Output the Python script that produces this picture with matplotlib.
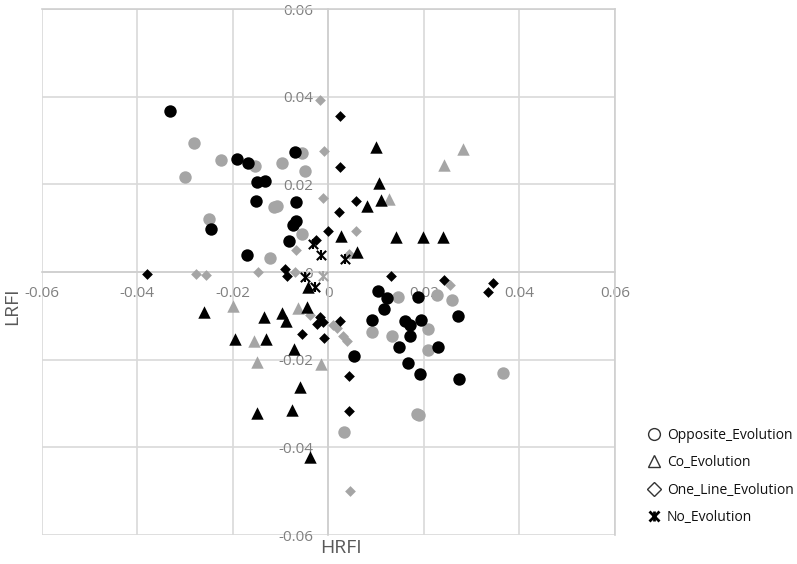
import matplotlib
matplotlib.use("Agg")
import matplotlib.pyplot as plt
from matplotlib.lines import Line2D

# HRFI / LRFI coordinates
opp_black_x = [-0.0332, -0.0191, -0.0168, -0.0149, -0.0132, -0.0069, -0.0152, -0.0068, -0.0067,
               -0.0073, -0.0245, -0.0083, -0.0170, 0.0104, 0.0123, 0.0116, 0.0188, 0.0091, 0.0161,
               0.0170, 0.0194, 0.0170, 0.0272, 0.0147, 0.0229, 0.0054, 0.0166, 0.0191, 0.0273]
opp_black_y = [0.0368, 0.0257, 0.0249, 0.0205, 0.0207, 0.0274, 0.0161, 0.0160, 0.0116,
               0.0107, 0.0098, 0.0071, 0.0039, -0.0043, -0.0060, -0.0085, -0.0056, -0.0110, -0.0111,
               -0.0121, -0.0110, -0.0145, -0.0100, -0.0170, -0.0172, -0.0192, -0.0208, -0.0233, -0.0245]
opp_gray_x = [-0.0280, -0.0300, -0.0224, -0.0153, -0.0096, -0.0055, -0.0048, -0.0114, -0.0107,
              -0.0249, -0.0054, -0.0121, 0.0145, 0.0227, 0.0259, 0.0091, 0.0134, 0.0208, 0.0208,
              0.0365, 0.0185, 0.0190, 0.0032]
opp_gray_y = [0.0295, 0.0217, 0.0255, 0.0243, 0.0248, 0.0272, 0.0230, 0.0149, 0.0151,
              0.0121, 0.0086, 0.0033, -0.0056, -0.0052, -0.0063, -0.0137, -0.0146, -0.0131, -0.0179,
              -0.0231, -0.0324, -0.0326, -0.0364]

co_black_x = [0.0099, 0.0107, 0.0111, 0.0082, 0.0026, 0.0141, 0.0199, 0.0240, 0.0060, -0.0042,
              -0.0045, -0.0260, -0.0196, -0.0134, -0.0131, -0.0096, -0.0088, -0.0071, -0.0060,
              -0.0149, -0.0075, -0.0038]
co_black_y = [0.0286, 0.0203, 0.0164, 0.0151, 0.0082, 0.0079, 0.0079, 0.0081, 0.0046, -0.0034,
              -0.0080, -0.0091, -0.0153, -0.0103, -0.0153, -0.0093, -0.0111, -0.0176, -0.0263,
              -0.0322, -0.0315, -0.0421]
co_gray_x = [0.0128, 0.0243, 0.0281, -0.0199, -0.0156, -0.0149, -0.0064, -0.0015]
co_gray_y = [0.0166, 0.0245, 0.0281, -0.0078, -0.0157, -0.0205, -0.0082, -0.0210]

one_black_x = [0.0024, 0.0024, 0.0058, 0.0023, 0.0000, -0.0025, -0.0379, -0.0091, -0.0086, 0.0132,
               0.0242, 0.0344, 0.0334, -0.0055, -0.0018, -0.0011, -0.0024, -0.0010, 0.0025,
               0.0044, 0.0044]
one_black_y = [0.0357, 0.0240, 0.0162, 0.0138, 0.0093, 0.0073, -0.0005, 0.0006, -0.0010, -0.0009,
               -0.0018, -0.0024, -0.0046, -0.0141, -0.0103, -0.0114, -0.0119, -0.0151, -0.0112,
               -0.0238, -0.0316]
one_gray_x = [-0.0018, -0.0008, -0.0011, 0.0059, -0.0067, -0.0147, -0.0276, -0.0256, -0.0070,
              0.0254, -0.0038, 0.0010, 0.0019, 0.0031, 0.0040, 0.0045, 0.0044]
one_gray_y = [0.0393, 0.0277, 0.0170, 0.0093, 0.0050, 0.0001, -0.0005, -0.0006, 0.0001,
              -0.0030, -0.0098, -0.0121, -0.0128, -0.0146, -0.0157, -0.0500, 0.0041]

no_black_x = [-0.0033, -0.0015, 0.0034, -0.0048, -0.0027]
no_black_y = [0.0063, 0.0038, 0.0030, -0.0011, -0.0035]
no_gray_x = [-0.0011]
no_gray_y = [-0.0008]

legend_labels = ["Opposite_Evolution", "Co_Evolution", "One_Line_Evolution", "No_Evolution"]
ticks = [-0.06, -0.04, -0.02, 0, 0.02, 0.04, 0.06]
tick_labels = ["-0.06", "-0.04", "-0.02", "0", "0.02", "0.04", "0.06"]

plt.rcParams["font.family"] = ["Open Sans", "DejaVu Sans"]
BLACK = "#000000"
GRAY = "#a5a5a5"


def star(ax, xs, ys, color, z):
    # Excel-style star marker: an x crossed by a vertical bar
    ax.scatter(xs, ys, s=45, marker="x", color=color, linewidths=1.5, zorder=z)
    ax.scatter(xs, ys, s=45, marker="|", color=color, linewidths=1.5, zorder=z)


fig = plt.figure(figsize=(7.97, 5.64), dpi=100)
ax = fig.add_axes([0.0521, 0.0514, 0.7196, 0.9326])

# gray series first, black ones sit on top
ax.scatter(opp_gray_x, opp_gray_y, s=80, marker="o", color=GRAY, linewidths=0, zorder=3)
ax.scatter(co_gray_x, co_gray_y, s=80, marker="^", color=GRAY, linewidths=0, zorder=3)
ax.scatter(one_gray_x, one_gray_y, s=30, marker="D", color=GRAY, linewidths=0, zorder=3)
star(ax, no_gray_x, no_gray_y, GRAY, 3)

ax.scatter(opp_black_x, opp_black_y, s=80, marker="o", color=BLACK, linewidths=0, zorder=4)
ax.scatter(co_black_x, co_black_y, s=80, marker="^", color=BLACK, linewidths=0, zorder=4)
ax.scatter(one_black_x, one_black_y, s=30, marker="D", color=BLACK, linewidths=0, zorder=4)
star(ax, no_black_x, no_black_y, BLACK, 4)

ax.set_xlim(-0.06, 0.06)
ax.set_ylim(-0.06, 0.06)
ax.set_xticks(ticks)
ax.set_xticklabels(tick_labels)
ax.set_yticks(ticks)
ax.set_yticklabels(tick_labels)
ax.grid(True, color="#d9d9d9", linewidth=1.2, zorder=0)
ax.set_axisbelow(True)

# axes cross at the origin, the remaining frame is the light grid box
ax.spines["bottom"].set_position("zero")
ax.spines["left"].set_position("zero")
for side in ["top", "right", "bottom", "left"]:
    ax.spines[side].set_color("#cfcfcf")
    ax.spines[side].set_linewidth(1.2)
ax.tick_params(axis="both", length=0, labelsize=11, labelcolor="#808080")
ax.tick_params(axis="x", pad=10)
ax.tick_params(axis="y", pad=11)

fig.text(0.428, 0.028, "HRFI", fontsize=14, color="#595959", ha="center", va="center")
fig.text(0.0155, 0.457, "LRFI", fontsize=14, color="#595959", ha="center", va="center",
         rotation=90)

handles = [
    Line2D([], [], linestyle="none", marker="o", markersize=8.5, markerfacecolor="none",
           markeredgecolor="#333333", markeredgewidth=1.0),
    Line2D([], [], linestyle="none", marker="^", markersize=8.5, markerfacecolor="none",
           markeredgecolor="#333333", markeredgewidth=1.0),
    Line2D([], [], linestyle="none", marker="D", markersize=7, markerfacecolor="none",
           markeredgecolor="#333333", markeredgewidth=1.0),
    (Line2D([], [], linestyle="none", marker="x", markersize=7, markeredgecolor=BLACK,
            markeredgewidth=2.0),
     Line2D([], [], linestyle="none", marker="|", markersize=7, markeredgecolor=BLACK,
            markeredgewidth=2.0)),
]
fig.legend(handles, legend_labels, loc="upper left", bbox_to_anchor=(0.795, 0.264),
           frameon=False, fontsize=10, labelspacing=0.9, handletextpad=0.3,
           handlelength=1.2, labelcolor="#111111")

fig.savefig("out.png", dpi=100)
